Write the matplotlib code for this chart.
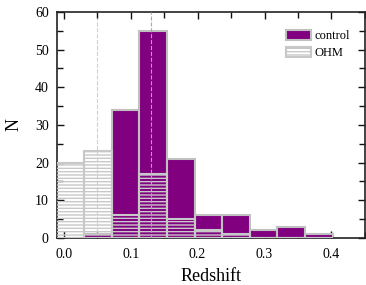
import matplotlib.pyplot as plt
from matplotlib.ticker import MultipleLocator
import numpy as np

plt.rcParams['font.family'] = ['Liberation Serif', 'DejaVu Serif']
plt.rcParams['hatch.color'] = '#cccccc'
plt.rcParams['hatch.linewidth'] = 1.0

bin_edges = [-0.011, 0.030, 0.072, 0.113, 0.154, 0.196, 0.237, 0.278, 0.319, 0.361, 0.402]
control = [0, 1, 34, 55, 21, 6, 6, 2, 3, 1]
ohm = [20, 23, 6, 17, 5, 2, 1, 0, 0, 0]
median_ohm = 0.05
median_control = 0.131

left = np.array(bin_edges[:-1])
widths = np.diff(bin_edges)

fig = plt.figure(figsize=(3.66, 2.85), dpi=100)
ax = fig.add_axes([0.156, 0.165, 0.841, 0.793])

ax.bar(left, control, width=widths, align='edge', color='#800080',
       edgecolor='#c0c0c0', linewidth=1.5, label='control', zorder=2)
ax.bar(left, ohm, width=widths, align='edge', facecolor='none',
       edgecolor='#c8c8c8', hatch='-----', linewidth=1.5, label='OHM', zorder=3)

ax.axvline(median_ohm, color='#d0d0d0', linestyle='--', linewidth=0.8, zorder=1)
ax.axvline(median_control, color='#e080e0', linestyle='--', linewidth=0.8, zorder=4)

ax.set_xlim(-0.01, 0.45)
ax.set_ylim(0, 60)
ax.xaxis.set_major_locator(MultipleLocator(0.1))
ax.xaxis.set_minor_locator(MultipleLocator(0.05))
ax.yaxis.set_major_locator(MultipleLocator(10))
ax.yaxis.set_minor_locator(MultipleLocator(5))
ax.xaxis.set_major_formatter(plt.FuncFormatter(lambda v, p: f'{v:.1f}'))
ax.tick_params(which='both', direction='in', top=True, right=True, labelsize=10,
               width=1.0, color='#111111')
ax.tick_params(axis='x', which='major', pad=7)
ax.tick_params(axis='y', which='major', pad=6)
ax.tick_params(which='major', length=5)
ax.tick_params(which='minor', length=4)
for s in ax.spines.values():
    s.set_linewidth(1.2)
    s.set_color('#222222')

ax.set_xlabel('Redshift', fontsize=13, labelpad=5)
ax.set_ylabel('N', fontsize=13, labelpad=9)

ax.legend(loc='upper right', frameon=False, fontsize=9, handlelength=2.0,
          handleheight=0.9, handletextpad=0.3, bbox_to_anchor=(0.985, 0.965),
          borderaxespad=0.4, labelspacing=0.35)

fig.savefig('out.png', dpi=100)
